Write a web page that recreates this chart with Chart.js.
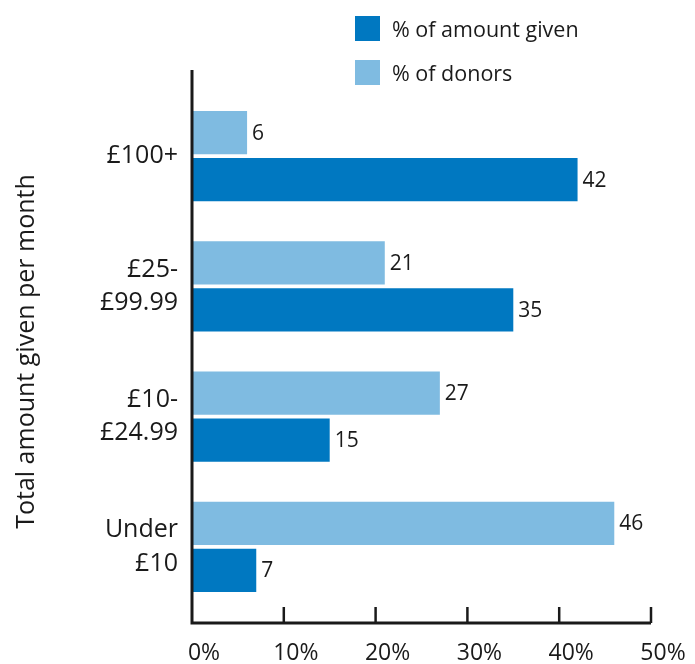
<!DOCTYPE html>
<html>
<head>
<meta charset="utf-8">
<script src="https://cdn.jsdelivr.net/npm/chart.js@4.4.1/dist/chart.umd.min.js"></script>
<style>
  body { margin: 0; background: #fff; }
  #wrap { position: relative; width: 695px; height: 664px; }
  #legend { position: absolute; left: 355px; top: 16px; font-family: "Open Sans", sans-serif; font-size: 21.5px; color: #1a1a1a; }
  #legend div { display: flex; align-items: center; height: 25px; margin-bottom: 19px; }
  #legend span.box { display: inline-block; width: 25px; height: 25px; margin-right: 12px; }
</style>
</head>
<body>
<div id="wrap">
  <canvas id="chart" width="695" height="664"></canvas>
  <div id="legend"></div>
</div>
<script>
// Monthly giving bands, top to bottom
const bands = [["£100+"], ["£25-", "£99.99"], ["£10-", "£24.99"], ["Under", "£10"]];
const donorsPct = [6, 21, 27, 46];
const amountPct = [42, 35, 15, 7];
const xTicks = [0, 10, 20, 30, 40, 50];

const DARK = "#0078c1";
const LIGHT = "#7fbbe1";
const INK = "#1a1a1a";
const FONT = '"Open Sans", sans-serif';
const AXIS_DROP = 11; // x axis sits a little below the last band

// Axis lines and inward tick marks
const axesPlugin = {
    id: "axes",
    afterDraw(chart) {
        const ctx = chart.ctx;
        const area = chart.chartArea;
        const x = chart.scales.x;
        const base = area.bottom + AXIS_DROP;
        ctx.save();
        ctx.strokeStyle = INK;
        ctx.lineWidth = 3;
        ctx.beginPath();
        ctx.moveTo(area.left, area.top - 21);
        ctx.lineTo(area.left, base);
        ctx.lineTo(x.getPixelForValue(xTicks[xTicks.length - 1]), base);
        ctx.stroke();
        ctx.lineWidth = 2.5;
        xTicks.slice(1).forEach(v => {
            const px = x.getPixelForValue(v);
            ctx.beginPath();
            ctx.moveTo(px, base);
            ctx.lineTo(px, base - 16);
            ctx.stroke();
        });
        ctx.restore();
    }
};

// Value printed just past the end of each bar
const valuePlugin = {
    id: "values",
    afterDatasetsDraw(chart) {
        const ctx = chart.ctx;
        ctx.save();
        ctx.fillStyle = INK;
        ctx.font = "21px " + FONT;
        ctx.textAlign = "left";
        ctx.textBaseline = "middle";
        chart.data.datasets.forEach((ds, i) => {
            chart.getDatasetMeta(i).data.forEach((bar, j) => {
                ctx.fillText(ds.data[j], bar.x + 5, bar.y + 1);
            });
        });
        ctx.restore();
    }
};

const chart = new Chart(document.getElementById("chart"), {
    type: "bar",
    data: {
        labels: bands,
        datasets: [
            { label: "% of donors", data: donorsPct, backgroundColor: LIGHT },
            { label: "% of amount given", data: amountPct, backgroundColor: DARK }
        ]
    },
    options: {
        indexAxis: "y",
        responsive: false,
        animation: false,
        categoryPercentage: 0.722,
        barPercentage: 0.915,
        layout: { padding: { top: 91, right: 44, left: 0, bottom: 0 } },
        plugins: {
            legend: { display: false },
            tooltip: { enabled: false }
        },
        scales: {
            x: {
                min: 0,
                max: 50,
                afterFit(scale) {
                    scale.height = 52;
                    scale.paddingLeft = 0;
                    scale.paddingRight = 0;
                },
                afterBuildTicks(scale) { scale.ticks = xTicks.map(v => ({ value: v })); },
                grid: { display: false, drawTicks: false },
                border: { display: false },
                ticks: {
                    padding: 28,
                    labelOffset: 12,
                    maxRotation: 0,
                    color: INK,
                    font: { family: FONT, size: 23 },
                    callback: v => v + "%"
                }
            },
            y: {
                afterFit(scale) {
                    scale.width = 192;
                    scale.paddingTop = 0;
                    scale.paddingBottom = 0;
                },
                grid: { display: false, drawTicks: false },
                border: { display: false },
                ticks: {
                    padding: 14,
                    color: INK,
                    font: { family: FONT, size: 25, lineHeight: 1.33 }
                },
                title: {
                    display: true,
                    text: "Total amount given per month",
                    color: INK,
                    font: { family: FONT, size: 25 },
                    padding: { top: 12, bottom: 0 }
                }
            }
        }
    },
    plugins: [axesPlugin, valuePlugin]
});

// Legend listed with the amount series first
const legend = document.getElementById("legend");
chart.data.datasets.slice().reverse().forEach(ds => {
    const row = document.createElement("div");
    const box = document.createElement("span");
    box.className = "box";
    box.style.background = ds.backgroundColor;
    row.appendChild(box);
    row.appendChild(document.createTextNode(ds.label));
    legend.appendChild(row);
});
</script>
</body>
</html>
